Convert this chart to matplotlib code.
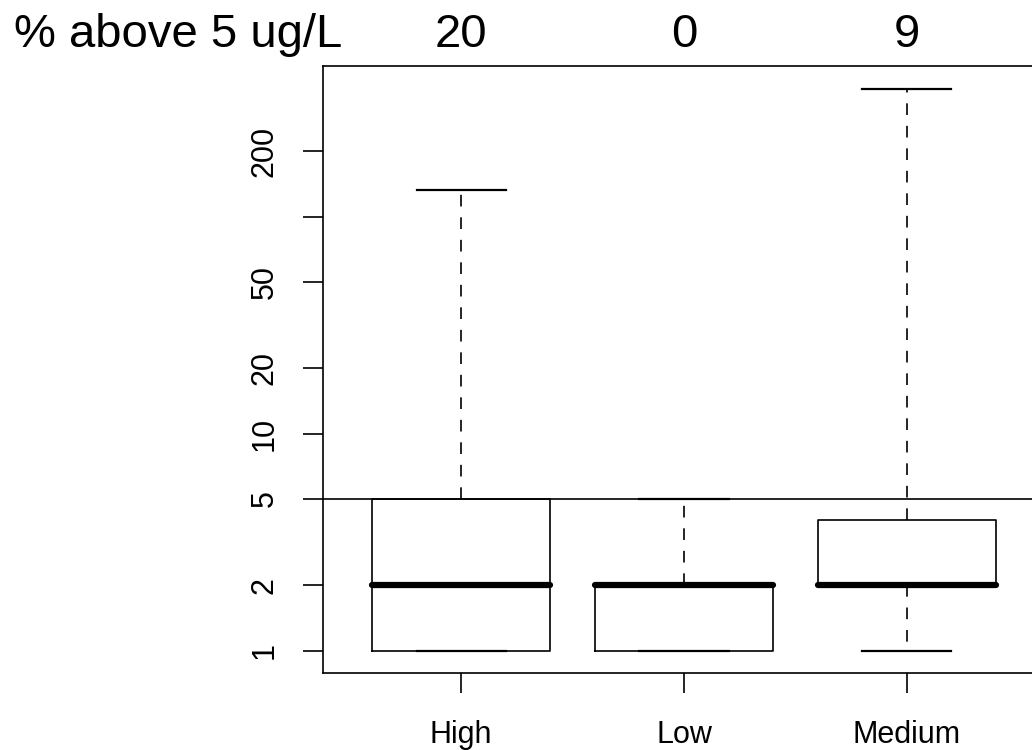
import matplotlib
matplotlib.use('Agg')
import matplotlib.pyplot as plt
import matplotlib.transforms as mtransforms

plt.rcParams['font.family'] = ['Liberation Sans', 'DejaVu Sans']

# data (ug/L, log scale)
groups = ['High', 'Low', 'Medium']
whislo = [1, 1, 1]
q1 = [1, 1, 2]
med = [2, 2, 2]
q3 = [5, 2, 4]
whishi = [132, 5, 389]
pct_above = ['20', '0', '9']
yticks = [1, 2, 5, 10, 20, 50, 100, 200]
ytick_labels = ['1', '2', '5', '10', '20', '50', '', '200']
limit = 5

stats = []
for g, lo, a, m, b, hi in zip(groups, whislo, q1, med, q3, whishi):
    stats.append(dict(label=g, whislo=lo, q1=a, med=m, q3=b, whishi=hi, fliers=[]))

fig = plt.figure(figsize=(10.32, 7.5), dpi=100)
ax = fig.add_axes([0.3130, 0.1027, 0.6996, 0.8093])

ax.bxp(stats, positions=[1, 2, 3], widths=0.8, capwidths=0.4,
       boxprops=dict(color='black', linewidth=1.2),
       whiskerprops=dict(color='black', linewidth=1.2, linestyle=(0, (7, 6.5))),
       capprops=dict(color='black', linewidth=1.6),
       medianprops=dict(color='black', linewidth=4.5, solid_capstyle='round'))

ax.axhline(limit, color='black', linewidth=1.2)

ax.set_yscale('log')
ax.set_ylim(0.788, 494)
ax.set_xlim(0.38, 3.62)
ax.set_yticks(yticks)
ax.set_yticklabels(ytick_labels)
ax.minorticks_off()
ax.set_xticks([1, 2, 3])
ax.set_xticklabels(groups)
ax.tick_params(axis='both', length=14.4, width=1.2, labelsize=22)
ax.tick_params(axis='x', pad=19.5)
ax.tick_params(axis='y', pad=17)
plt.setp(ax.get_yticklabels(), rotation=90, va='center')
for s in ax.spines.values():
    s.set_linewidth(1.2)

# percentage row on top
fig.text(14 / 1032, 1 - 47 / 750, '% above 5 ug/L', fontsize=34, ha='left', va='baseline')
trans = mtransforms.blended_transform_factory(ax.transData, fig.transFigure)
for i, p in enumerate(pct_above):
    ax.text(i + 1, 1 - 47 / 750, p, transform=trans, fontsize=34,
            ha='center', va='baseline', clip_on=False)

plt.savefig('out.png', dpi=100)
